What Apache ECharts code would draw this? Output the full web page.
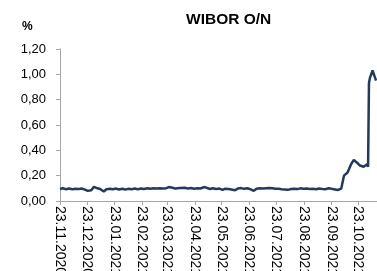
<!DOCTYPE html>
<html>
<head>
<meta charset="utf-8">
<script src="https://cdn.jsdelivr.net/npm/echarts@6/dist/echarts.min.js"></script>
<style>html,body{margin:0;padding:0;background:#fff}#c{width:377px;height:271px}</style>
</head>
<body>
<div id="c"></div>
<script>
const dates = [
'2020-11-23','2020-11-26','2020-11-30','2020-12-03','2020-12-07','2020-12-10','2020-12-14','2020-12-17','2020-12-21','2020-12-24',
'2020-12-28','2020-12-31','2021-01-04','2021-01-07','2021-01-11','2021-01-14','2021-01-18','2021-01-21','2021-01-25','2021-01-28',
'2021-02-01','2021-02-04','2021-02-08','2021-02-11','2021-02-15','2021-02-18','2021-02-22','2021-02-25','2021-03-01','2021-03-04',
'2021-03-08','2021-03-11','2021-03-15','2021-03-18','2021-03-22','2021-03-25','2021-03-29','2021-04-01','2021-04-06','2021-04-08',
'2021-04-12','2021-04-15','2021-04-19','2021-04-22','2021-04-26','2021-04-29','2021-05-04','2021-05-06','2021-05-10','2021-05-13',
'2021-05-17','2021-05-20','2021-05-24','2021-05-27','2021-05-31','2021-06-02','2021-06-07','2021-06-10','2021-06-14','2021-06-17',
'2021-06-21','2021-06-24','2021-06-28','2021-07-01','2021-07-05','2021-07-08','2021-07-12','2021-07-15','2021-07-19','2021-07-22',
'2021-07-26','2021-07-29','2021-08-02','2021-08-05','2021-08-09','2021-08-12','2021-08-16','2021-08-19','2021-08-23','2021-08-26',
'2021-08-30','2021-09-02','2021-09-06','2021-09-09','2021-09-13','2021-09-16','2021-09-20','2021-09-23','2021-09-27','2021-09-30',
'2021-10-04','2021-10-06','2021-10-07','2021-10-11','2021-10-13','2021-10-15','2021-10-18','2021-10-20','2021-10-22','2021-10-25',
'2021-10-27','2021-10-29','2021-11-02','2021-11-03','2021-11-04','2021-11-05','2021-11-08','2021-11-10','2021-11-12'
];
const wiborON = [
0.095,0.100,0.093,0.098,0.092,0.097,0.094,0.099,0.090,0.080,
0.085,0.112,0.100,0.095,0.075,0.092,0.097,0.093,0.098,0.091,
0.097,0.090,0.096,0.093,0.099,0.092,0.098,0.095,0.100,0.097,
0.101,0.098,0.100,0.099,0.101,0.110,0.105,0.098,0.103,0.099,
0.104,0.098,0.102,0.097,0.101,0.099,0.110,0.098,0.095,0.100,
0.094,0.099,0.088,0.097,0.094,0.099,0.085,0.098,0.102,0.096,
0.101,0.094,0.080,0.097,0.100,0.098,0.101,0.103,0.100,0.097,
0.096,0.093,0.091,0.088,0.095,0.097,0.094,0.100,0.096,0.098,
0.094,0.097,0.093,0.099,0.095,0.093,0.100,0.096,0.091,0.087,
0.098,0.100,0.200,0.225,0.240,0.290,0.325,0.310,0.300,0.280,
0.295,0.270,0.290,0.270,0.930,0.970,1.030,0.990,0.950
];
const tickLabels = ['23.11.2020','23.12.2020','23.01.2021','23.02.2021','23.03.2021','23.04.2021',
'23.05.2021','23.06.2021','23.07.2021','23.08.2021','23.09.2021','23.10.2021'];

const DAY = 86400000;
function utcDmy(s){ const p = s.split('.'); return Date.UTC(+p[2], +p[1]-1, +p[0]); }
function utcYmd(s){ const p = s.split('-'); return Date.UTC(+p[0], +p[1]-1, +p[2]); }
const start = utcYmd('2020-11-23');
const endDay = Math.round((utcYmd('2021-11-13') - start) / DAY);
const tickDays = tickLabels.map(s => Math.round((utcDmy(s) - start) / DAY));
const seriesData = dates.map((d,i) => [Math.round((utcYmd(d) - start) / DAY), wiborON[i]]);

const chart = echarts.init(document.getElementById('c'), null, {renderer:'canvas'});
const FONT = 'Liberation Sans';
chart.setOption({
  animation: false,
  backgroundColor: '#fff',
  title: {
    text: 'WIBOR O/N', left: 186, top: 12, padding: 0,
    textStyle: { fontFamily: FONT, fontSize: 15.5, fontWeight: 'bold', color: '#000' }
  },
  graphic: [{
    type: 'text', left: 22, top: 21,
    style: { text: '%', font: 'bold 12px "Liberation Sans"', fill: '#000' }
  }],
  grid: { left: 60, right: 0, top: 49, bottom: 70, containLabel: false, outerBoundsMode: 'none' },
  xAxis: {
    type: 'value',
    min: 0,
    max: endDay,
    splitLine: { show: false },
    axisLine: { lineStyle: { color: '#A6A6A6', width: 1 } },
    axisTick: { show: true, length: 4, lineStyle: { color: '#A6A6A6' }, customValues: tickDays },
    axisLabel: {
      customValues: tickDays,
      rotate: -90, margin: 5,
      formatter: v => { const i = tickDays.indexOf(Math.round(v)); return i >= 0 ? tickLabels[i] : ''; },
      fontFamily: FONT, fontSize: 14, color: '#000',
      showMinLabel: true, showMaxLabel: true, hideOverlap: false
    }
  },
  yAxis: {
    type: 'value', min: 0, max: 1.2, interval: 0.2,
    splitLine: { show: false },
    axisLine: { show: true, lineStyle: { color: '#A6A6A6', width: 1 } },
    axisTick: { show: true, length: 4, lineStyle: { color: '#A6A6A6' } },
    axisLabel: {
      margin: 14,
      formatter: v => v.toFixed(2).replace('.', ','),
      fontFamily: FONT, fontSize: 13, color: '#000'
    }
  },
  series: [{
    type: 'line', data: seriesData, showSymbol: false, symbol: 'none',
    lineStyle: { color: '#1F3A63', width: 2.5 }, clip: false
  }]
});
</script>
</body>
</html>
